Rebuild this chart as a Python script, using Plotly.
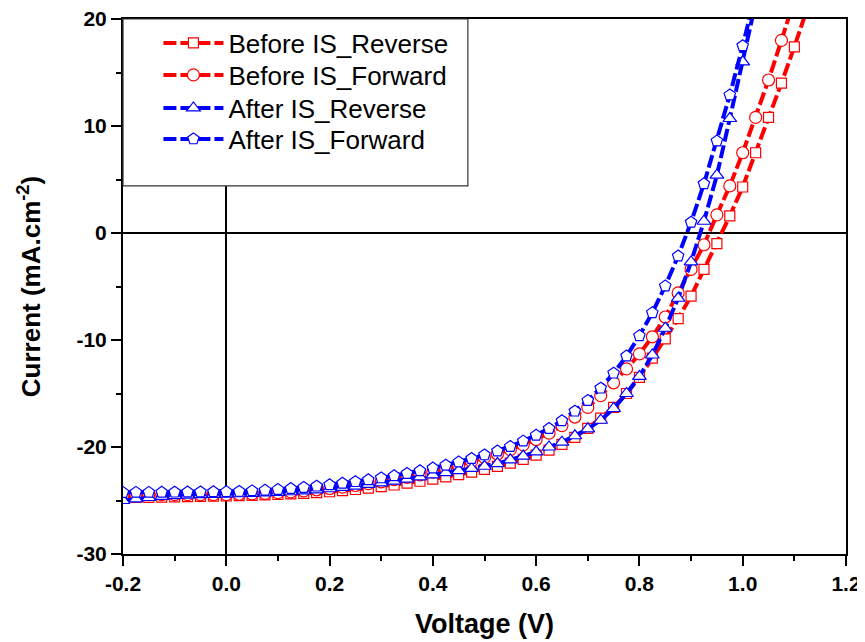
import plotly.graph_objects as go

voltage = [-0.2, -0.175, -0.15, -0.125, -0.1, -0.075, -0.05, -0.025,
           0.0, 0.025, 0.05, 0.075, 0.1, 0.125, 0.15, 0.175,
           0.2, 0.225, 0.25, 0.275, 0.3, 0.325, 0.35, 0.375,
           0.4, 0.425, 0.45, 0.475, 0.5, 0.525, 0.55, 0.575,
           0.6, 0.625, 0.65, 0.675, 0.7, 0.725, 0.75, 0.775,
           0.8, 0.825, 0.85, 0.875, 0.9, 0.925, 0.95, 0.975,
           1.0, 1.025, 1.05, 1.075, 1.1, 1.125]

before_reverse = [-24.75, -24.72, -24.70, -24.68, -24.66, -24.64, -24.62, -24.60,
                  -24.58, -24.55, -24.52, -24.48, -24.44, -24.39, -24.33, -24.26,
                  -24.18, -24.08, -23.97, -23.84, -23.70, -23.55, -23.38, -23.20,
                  -23.00, -22.80, -22.58, -22.35, -22.10, -21.82, -21.50, -21.15,
                  -20.75, -20.30, -19.75, -19.10, -18.25, -17.30, -16.30, -15.00,
                  -13.50, -11.70, -9.90, -8.00, -5.90, -3.40, -1.00, 1.60,
                  4.30, 7.50, 10.80, 14.00, 17.40, 21.00]

before_forward = [-24.45, -24.45, -24.45, -24.45, -24.45, -24.45, -24.45, -24.45,
                  -24.45, -24.42, -24.38, -24.33, -24.27, -24.20, -24.10, -24.00,
                  -23.88, -23.75, -23.60, -23.43, -23.25, -23.05, -22.83, -22.60,
                  -22.35, -22.05, -21.70, -21.35, -21.00, -20.65, -20.25, -19.80,
                  -19.30, -18.70, -18.00, -17.20, -16.30, -15.20, -14.00, -12.70,
                  -11.30, -9.70, -7.85, -5.60, -3.40, -1.10, 1.70, 4.40,
                  7.50, 10.80, 14.30, 18.00, 21.80]

after_reverse = [-25.00, -24.85, -24.72, -24.62, -24.55, -24.50, -24.46, -24.42,
                 -24.40, -24.37, -24.33, -24.29, -24.24, -24.18, -24.10, -24.00,
                 -23.90, -23.78, -23.65, -23.50, -23.35, -23.18, -23.00, -22.80,
                 -22.60, -22.40, -22.20, -22.00, -21.80, -21.55, -21.20, -20.85,
                 -20.45, -20.00, -19.55, -18.95, -18.30, -17.50, -16.40, -15.00,
                 -13.40, -11.40, -8.90, -6.10, -2.70, 1.10, 5.40, 10.70,
                 16.00, 21.50]

after_forward = [-24.25, -24.24, -24.24, -24.23, -24.22, -24.21, -24.20, -24.19,
                 -24.18, -24.15, -24.10, -24.04, -23.97, -23.88, -23.78, -23.66,
                 -23.53, -23.39, -23.24, -23.07, -22.89, -22.69, -22.47, -22.23,
                 -21.97, -21.70, -21.40, -21.08, -20.74, -20.38, -19.95, -19.45,
                 -18.90, -18.28, -17.55, -16.65, -15.65, -14.50, -13.10, -11.50,
                 -9.60, -7.45, -4.95, -2.15, 1.00, 4.60, 8.60, 12.90,
                 17.50, 22.40]

series_names = ["Before IS_Reverse", "Before IS_Forward", "After IS_Reverse", "After IS_Forward"]
x_ticks = [-0.2, 0.0, 0.2, 0.4, 0.6, 0.8, 1.0, 1.2]
x_ticktext = ["-0.2", "0.0", "0.2", "0.4", "0.6", "0.8", "1.0", "1.2"]
y_ticks = [-30, -20, -10, 0, 10, 20]
y_ticktext = ["-30", "-20", "-10", "0", "10", "20"]

series = [before_reverse, before_forward, after_reverse, after_forward]
colors = ["#ff0000", "#ff0000", "#0000ff", "#0000ff"]
symbols = ["square", "circle", "triangle-up", "pentagon"]
sizes = [10, 12, 12, 12]
legend_ids = ["legend", "legend2", "legend3", "legend4"]
legend_y = [0.9551, 0.8953, 0.8336, 0.7757]

FONT = "Liberation Sans, Arial, sans-serif"

fig = go.Figure()
for name, vals, c, s, sz, lid in zip(series_names, series, colors, symbols, sizes, legend_ids):
    fig.add_trace(go.Scatter(
        x=voltage[:len(vals)], y=vals, name=name, legend=lid,
        mode="lines+markers",
        line=dict(color=c, width=4, dash="13px,4px"),
        marker=dict(symbol=s, size=sz, color="white",
                    line=dict(color=c, width=1.2)),
    ))

fig.add_shape(type="rect", xref="paper", yref="paper",
              x0=0, x1=0.477, y0=0.688, y1=1.0,
              fillcolor="white", line=dict(color="#333", width=1.2), layer="above")

axis_common = dict(
    showline=True, linecolor="black", linewidth=2, mirror=True,
    ticks="outside", ticklen=10, tickwidth=1.5, tickcolor="black",
    showgrid=False, zeroline=True, zerolinecolor="black", zerolinewidth=2,
    automargin=False, ticklabeloverflow="allow",
    tickfont=dict(family=FONT, size=21, color="black", weight="bold"),
)

fig.update_xaxes(range=[-0.2, 1.2], tickmode="array", tickvals=x_ticks, ticktext=x_ticktext,
                 minor=dict(dtick=0.1, ticklen=5, tickwidth=1.5, tickcolor="black", ticks="outside"),
                 title=dict(text="Voltage (V)", font=dict(family=FONT, size=27, color="black", weight="bold"),
                            standoff=20),
                 **axis_common)
fig.update_yaxes(range=[-30, 20], tickmode="array", tickvals=y_ticks, ticktext=y_ticktext,
                 minor=dict(dtick=5, ticklen=5, tickwidth=1.5, tickcolor="black", ticks="outside"),
                 title=dict(text="Current (mA.cm<sup>-2</sup>)", font=dict(family=FONT, size=26, color="black", weight="bold"),
                            standoff=28),
                 **axis_common)

legend_style = dict(xanchor="left", yanchor="middle", x=0.049,
                    bgcolor="rgba(0,0,0,0)", borderwidth=0,
                    font=dict(family=FONT, size=26, color="black"),
                    itemwidth=60)

fig.update_layout(
    width=857, height=634,
    margin=dict(l=115, r=19, t=11, b=88),
    plot_bgcolor="white", paper_bgcolor="white",
    showlegend=True,
    **{lid: dict(y=ly, **legend_style) for lid, ly in zip(legend_ids, legend_y)},
)

fig.write_html("out.html")
